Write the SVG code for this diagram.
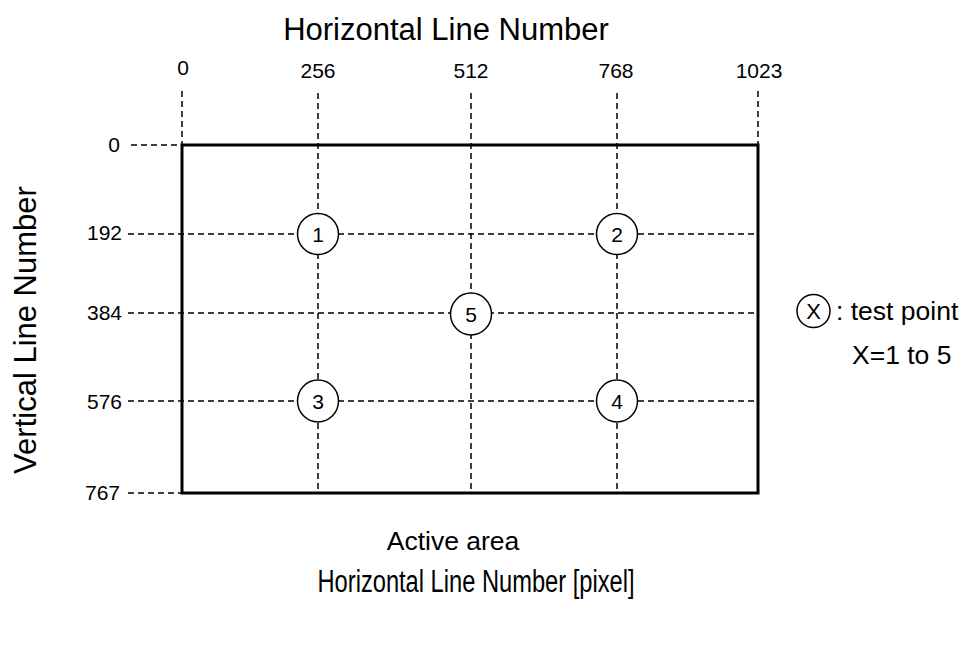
<svg xmlns="http://www.w3.org/2000/svg" width="962" height="664" viewBox="0 0 962 664">
<style>
.t{font-family:"Liberation Sans",Arial,sans-serif;fill:#000}
.big{font-size:31px}
.num{font-size:21px}
.mid{font-size:26.5px}
.d{stroke:#000;stroke-width:1.5;stroke-dasharray:6 4;fill:none}
.pt{fill:#fff;stroke:#000;stroke-width:1.5}
</style>
<rect width="962" height="664" fill="#fff"/>
<g id="connectors">
<line class="d" x1="182" y1="91" x2="182" y2="145"/>
<line class="d" x1="318" y1="93" x2="318" y2="493"/>
<line class="d" x1="471" y1="93" x2="471" y2="493"/>
<line class="d" x1="617" y1="93" x2="617" y2="493"/>
<line class="d" x1="758" y1="91" x2="758" y2="145"/>
<line class="d" x1="131" y1="145" x2="181" y2="145"/>
<line class="d" x1="128" y1="234" x2="756" y2="234"/>
<line class="d" x1="128" y1="313" x2="756" y2="313"/>
<line class="d" x1="128" y1="401" x2="756" y2="401"/>
<line class="d" x1="128" y1="493" x2="181" y2="493"/>
</g>
<g id="active-area">
<rect x="182" y="145" width="576" height="348" fill="none" stroke="#000" stroke-width="3"/>
</g>
<g id="p1"><ellipse class="pt" cx="318" cy="234" rx="20.5" ry="20.5"/><text class="t num" x="318" y="242" text-anchor="middle">1</text></g>
<g id="p2"><ellipse class="pt" cx="617" cy="234" rx="20.5" ry="20.5"/><text class="t num" x="617" y="242" text-anchor="middle">2</text></g>
<g id="p5"><ellipse class="pt" cx="471" cy="314" rx="20.5" ry="21"/><text class="t num" x="471" y="322" text-anchor="middle">5</text></g>
<g id="p3"><ellipse class="pt" cx="318" cy="401" rx="20.5" ry="21"/><text class="t num" x="318" y="409" text-anchor="middle">3</text></g>
<g id="p4"><ellipse class="pt" cx="617" cy="401" rx="20.5" ry="21"/><text class="t num" x="617" y="409" text-anchor="middle">4</text></g>
<g id="legend">
<circle class="pt" cx="813.5" cy="311" r="16.5"/>
<text class="t" style="font-size:22px" x="813.5" y="319" text-anchor="middle">X</text>
<text class="t mid" x="836" y="320">: test point</text>
<text class="t mid" x="852" y="364">X=1 to 5</text>
</g>
<g id="labels">
<text class="t big" x="446" y="40" text-anchor="middle">Horizontal Line Number</text>
<text class="t num" x="183" y="75" text-anchor="middle">0</text>
<text class="t num" x="318" y="78" text-anchor="middle">256</text>
<text class="t num" x="471" y="78" text-anchor="middle">512</text>
<text class="t num" x="616" y="78" text-anchor="middle">768</text>
<text class="t num" x="759" y="78" text-anchor="middle">1023</text>
<text class="t num" x="120" y="152" text-anchor="end">0</text>
<text class="t num" x="122" y="240" text-anchor="end">192</text>
<text class="t num" x="122" y="320" text-anchor="end">384</text>
<text class="t num" x="122" y="409" text-anchor="end">576</text>
<text class="t num" x="120" y="500" text-anchor="end">767</text>
<text class="t big" transform="translate(36,330) rotate(-90)" text-anchor="middle">Vertical Line Number</text>
<text class="t mid" x="453" y="550" text-anchor="middle">Active area</text>
<text class="t big" x="476" y="592" text-anchor="middle" textLength="317" lengthAdjust="spacingAndGlyphs">Horizontal Line Number [pixel]</text>
</g>
</svg>
